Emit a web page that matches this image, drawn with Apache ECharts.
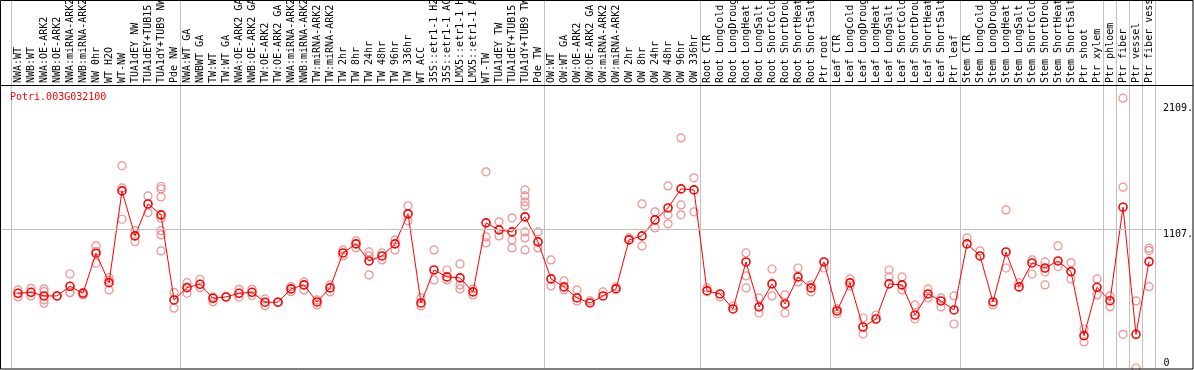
<!DOCTYPE html>
<html>
<head>
<meta charset="utf-8">
<style>html,body{margin:0;padding:0;background:#fff}#chart{width:1194px;height:370px}</style>
<script src="https://cdn.jsdelivr.net/npm/echarts@6/dist/echarts.min.js"></script>
</head>
<body>
<div id="chart"></div>
<script>
const geneTitle = 'Potri.003G032100';
const categories = [
 'NWA:WT','NWB:WT','NWA:OE-ARK2','NWB:OE-ARK2','NWA:miRNA-ARK2','NWB:miRNA-ARK2','NW 0hr','WT H2O','WT-NW','TUA1dEY NW','TUA1dEY+TUB15','TUA1dY+TUB9 NW','Pde NW',
 'NWA:WT GA','NWBWT GA','TW:WT','TW:WT GA','NWA:OE-ARK2 GA','NWB:OE-ARK2 GA','TW:OE-ARK2','TW:OE-ARK2 GA','NWA:miRNA-ARK2','NWB:miRNA-ARK2','TW:miRNA-ARK2','TW:miRNA-ARK2','TW 2hr','TW 8hr','TW 24hr','TW 48hr','TW 96hr','TW 336hr','WT ACC','35S::etr1-1 H2O','35S::etr1-1 ACC','LMX5::etr1-1 H2O','LMX5::etr1-1 ACC','WT-TW','TUA1dEY TW','TUA1dEY+TUB15','TUA1dY+TUB9 TW','Pde TW',
 'OW:WT','OW:WT GA','OW:OE-ARK2','OW:OE-ARK2 GA','OW:miRNA-ARK2','OW:miRNA-ARK2','OW 2hr','OW 8hr','OW 24hr','OW 48hr','OW 96hr','OW 336hr',
 'Root CTR','Root LongCold','Root LongDrought','Root LongHeat','Root LongSalt','Root ShortCold','Root ShortDrought','Root ShortHeat','Root ShortSalt','Ptr root',
 'Leaf CTR','Leaf LongCold','Leaf LongDrought','Leaf LongHeat','Leaf LongSalt','Leaf ShortCold','Leaf ShortDrought','Leaf ShortHeat','Leaf ShortSalt','Ptr leaf',
 'Stem CTR','Stem LongCold','Stem LongDrought','Stem LongHeat','Stem LongSalt','Stem ShortCold','Stem ShortDrought','Stem ShortHeat','Stem ShortSalt','Ptr shoot','Ptr xylem',
 'Ptr phloem','Ptr fiber','Ptr vessel','Ptr fiber vessel'
];
const groupSizes = [13, 28, 12, 10, 10, 11, 1, 1, 1, 1];
const meanValues = [
 596,604,575,575,652,596,916,681,1413,1054,1309,1222,543,
 641,668,556,567,596,604,525,525,631,663,527,639,918,990,854,894,990,1230,519,782,727,719,607,1158,1102,1086,1206,1006,
 711,647,559,519,575,631,1022,1054,1182,1277,1429,1421,
 615,591,471,846,487,671,511,727,639,846,
 455,679,327,391,671,663,423,591,535,463,
 990,894,527,926,647,838,798,854,769,258,644,
 537,1283,269,849
];
const replicates = [
 [623,567],[636,575],[631,543,517,610],[575],[750,604,600],[583,604],[974,836,930],[721,623,700],[1613,1187,1437],[1096,1008],[1373,1240],[1448,1429,1365,1195,1096,1062,934],[604,477],
 [681,596],[708,641],[567,529],[567],[628,564],[628,578],[551,497],[525],[649,609],[687,623],[543,503],[663,607],[942,894],[1014,958],[926,894,743],[918,862],[1022,942],[1293,1174],[559,495],[942,703],[782,703],[830,663,631],[631,583],[1565,998,1046],[1166,1054],[1198,958,1022],[1421,1373,1325,1293,1086,1038,942],[1086,958],
 [862,655],[695,623],[623,535],[535],[607],[647],[1038],[1309,974],[1246,1118],[1453,1222,1150],[1836,1301,1222],[1517,1246],
 [639],[567],[495],[918,735,639],[559,439],[790,575],[583,439],[798,687],[663,607],[798],
 [471,431],[711,655],[399,271],[423],[782,727],[727,623],[503,391],[631,559],[559,487],[575,351],
 [1038],[934],[503],[1261,798],[679],[862,750],[846,766,663],[974,809],[841,711],[311,208],[711,583],
 [575,489],[2153,1443,269],[535,0],[956,937,649]
];
const yLabelValues = [1107, 2109];
const yZeroLabel = [0];
const gridLineValue = 1107;
const yMax = 2250;

const boundaryStarts = [];
{ let s = 0; for (const g of groupSizes) { boundaryStarts.push(s); s += g; } }
const isBoundary = (idx) => boundaryStarts.indexOf(idx) >= 0;
const repPoints = [];
replicates.forEach((arr, i) => arr.forEach(v => repPoints.push([i, v])));

const mono = 'DejaVu Sans Mono';
const sepColor = '#c0c0c0';
const gridBase = {outerBoundsMode: 'none', containLabel: false};
const chart = echarts.init(document.getElementById('chart'), null, {renderer: 'canvas'});
chart.setOption({
  animation: false,
  backgroundColor: '#fff',
  title: {text: geneTitle, left: 10, top: 92, padding: 0,
    textStyle: {color: '#ff0000', fontSize: 10, fontFamily: mono, fontWeight: 'normal'}},
  grid: [
    Object.assign({left: 1, right: 32, top: 86, bottom: 2}, gridBase),
    Object.assign({left: 11.5, width: 1144, top: 86, bottom: 2}, gridBase),
    Object.assign({left: 11.5, width: 1144, top: 0, height: 86}, gridBase)
  ],
  xAxis: [
    {gridIndex: 0, type: 'value', min: 0, max: 1, show: false},
    {gridIndex: 1, type: 'category', position: 'top', data: categories, boundaryGap: true,
     axisLine: {show: false},
     axisTick: {show: false},
     splitLine: {show: true, interval: isBoundary, lineStyle: {color: sepColor, width: 1}},
     axisLabel: {interval: 0, rotate: 90, align: 'left', verticalAlign: 'middle', margin: 3,
       fontFamily: mono, fontSize: 10, color: '#000'}},
    {gridIndex: 2, type: 'category', data: categories, boundaryGap: true,
     axisLine: {show: false}, axisTick: {show: false}, axisLabel: {show: false},
     splitLine: {show: true, interval: isBoundary, lineStyle: {color: sepColor, width: 1}}}
  ],
  yAxis: [
    {gridIndex: 0, type: 'value', min: 0, max: yMax, position: 'right',
     axisLine: {show: false}, axisTick: {show: false}, splitLine: {show: false},
     axisLabel: {customValues: yLabelValues, margin: 1, verticalAlign: 'top', fontFamily: mono, fontSize: 10, color: '#000',
       formatter: v => v + '.'}},
    {gridIndex: 1, type: 'value', min: 0, max: yMax, position: 'right',
     axisLine: {show: false}, axisTick: {show: false}, splitLine: {show: false},
     axisLabel: {customValues: yZeroLabel, margin: 8, verticalAlign: 'bottom', fontFamily: mono, fontSize: 10, color: '#000',
       formatter: v => String(v)}},
    {gridIndex: 2, type: 'value', min: 0, max: 1, show: false}
  ],
  series: [
    {type: 'line', xAxisIndex: 0, yAxisIndex: 0, data: [], silent: true,
     markLine: {silent: true, symbol: 'none', label: {show: false},
       lineStyle: {color: sepColor, type: 'solid', width: 1}, data: [{yAxis: gridLineValue}]}},
    {type: 'scatter', xAxisIndex: 1, yAxisIndex: 1, data: repPoints, symbol: 'circle', symbolSize: 8, z: 2,
     itemStyle: {color: 'rgba(255,255,255,0)', borderColor: '#f09090', borderWidth: 1.2, opacity: 1}},
    {type: 'line', xAxisIndex: 1, yAxisIndex: 1, data: meanValues, symbol: 'circle', symbolSize: 8, z: 3,
     lineStyle: {color: '#ff0000', width: 1},
     itemStyle: {color: 'rgba(255,255,255,0)', borderColor: '#ff0000', borderWidth: 1.6}}
  ],
  graphic: [
    {type: 'rect', silent: true, z: 100, shape: {x: 0.5, y: 0.5, width: 1192.5, height: 368.5},
     style: {fill: 'none', stroke: '#000', lineWidth: 1}},
    {type: 'line', silent: true, z: 100, shape: {x1: 0, y1: 85.5, x2: 1193, y2: 85.5},
     style: {stroke: '#000', lineWidth: 1}}
  ]
});
</script>
</body>
</html>
